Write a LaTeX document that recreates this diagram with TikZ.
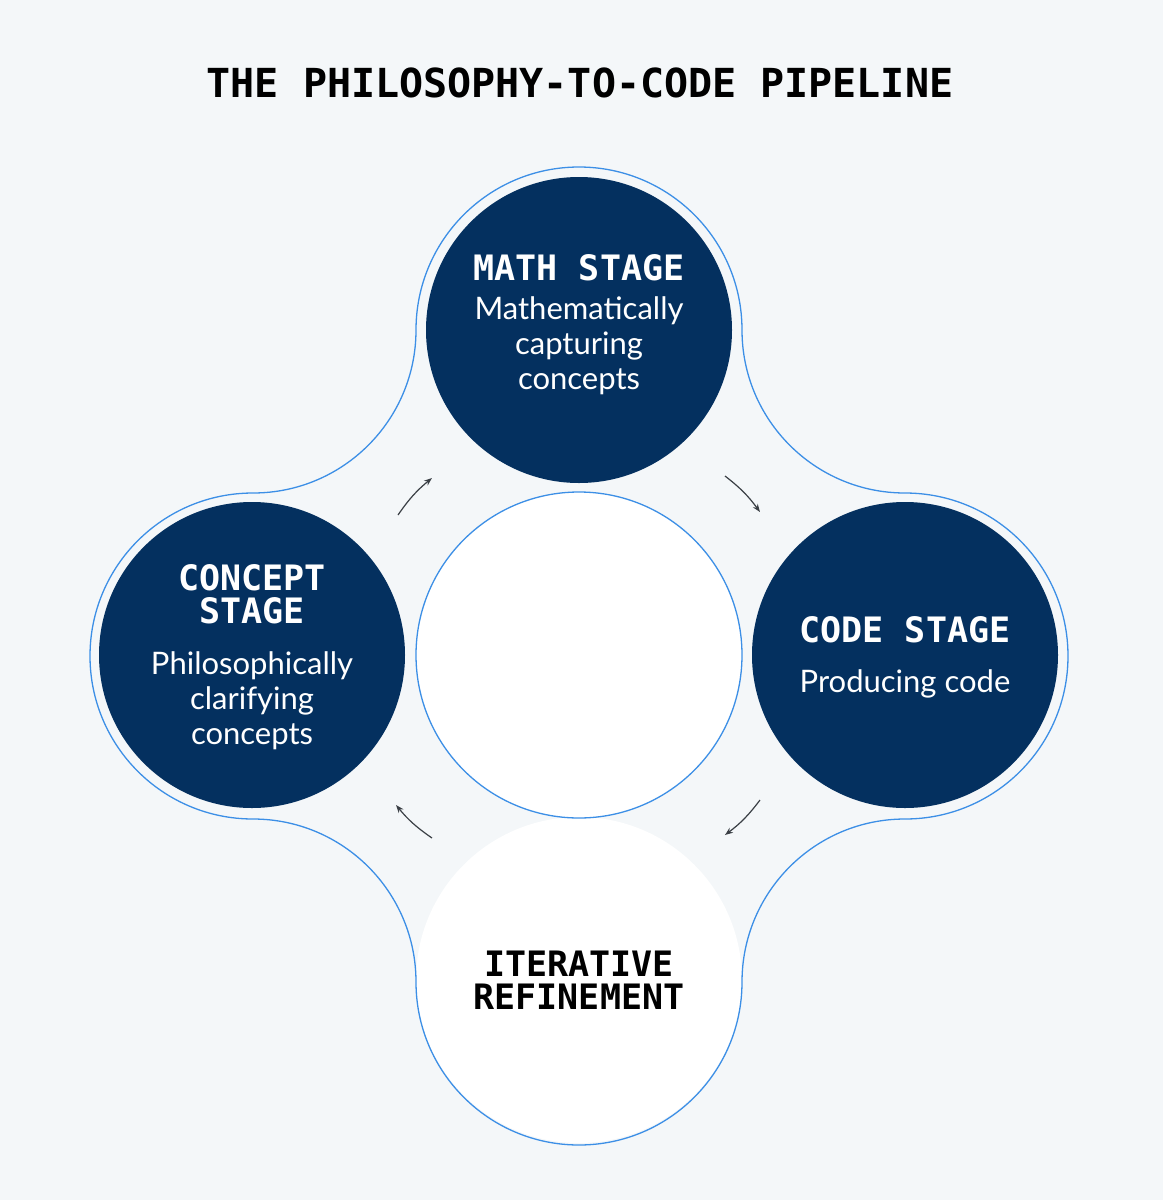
\documentclass[tikz,border=0pt]{standalone}
\usepackage{fontspec}
\setmainfont{Lato}
\newfontfamily\headfont{DejaVu Sans Mono}
\usetikzlibrary{arrows.meta, positioning}
\definecolor{bgcol}{HTML}{F4F7F9}
\definecolor{navy}{HTML}{04305F}
\definecolor{ringblue}{HTML}{3C8FE6}
\definecolor{arrowgray}{HTML}{3A3F45}

\begin{document}
\begin{tikzpicture}[x=1pt, y=-1pt,
    stage/.style={circle, fill=navy, minimum size=306pt, inner sep=0pt},
    ring/.style={draw=ringblue, line width=1.3pt},
    head/.style={font=\headfont\bfseries\fontsize{35}{35}\selectfont, text=white, align=center},
    body/.style={font=\fontsize{31}{35}\selectfont, text=white, align=center},
    flow/.style={draw=arrowgray, line width=1.2pt, -{Stealth[length=8pt, width=6pt]}}]
        \useasboundingbox[fill=bgcol] (0,0) rectangle (1163,1200);
        \node[font=\headfont\bfseries\fontsize{40}{40}\selectfont] (title) at (580,83) {THE PHILOSOPHY-TO-CODE PIPELINE};
        
        % white lobes
        \fill[white] (579,655) circle (163);
        \fill[white] (579,980) circle (163);
        \draw[ring] (579,655) circle (163);
        
        % outer outline
        \draw[ring] (742,330) arc[start angle=0, end angle=-180, radius=163]
            arc[start angle=0, end angle=90, radius=163]
            arc[start angle=-90, end angle=-270, radius=163]
            arc[start angle=-90, end angle=0, radius=163]
            arc[start angle=180, end angle=0, radius=163]
            arc[start angle=180, end angle=270, radius=163]
            arc[start angle=90, end angle=-90, radius=163]
            arc[start angle=90, end angle=180, radius=163] -- cycle;
        
        % stages
        \node[stage] (math) at (579,330) {};
        \node[stage] (concept) at (252,655) {};
        \node[stage] (code) at (905,655) {};
        
        \node[head] (mathhead) at (579,268) {MATH STAGE};
        \node[body] (mathbody) [below=8pt of mathhead] {Mathematically\\capturing\\concepts};
        \node[head, text depth=0pt] (concepthead) at (252,594) {CONCEPT\\[-2pt]STAGE};
        \node[body] (conceptbody) at (252,701) {Philosophically\\clarifying\\concepts};
        \node[head] (codehead) at (905,630) {CODE STAGE};
        \node[body] (codebody) at (905,684) {Producing code};
        \node[head, text=black] (iterhead) at (579,980) {ITERATIVE\\[-2pt]REFINEMENT};
        
        % cycle arrows
        \coordinate (a1s) at (398,515); \coordinate (a1e) at (432,478);
        \coordinate (a2s) at (725,476); \coordinate (a2e) at (760,512);
        \coordinate (a3s) at (760,800); \coordinate (a3e) at (725,835);
        \coordinate (a4s) at (432,838); \coordinate (a4e) at (396,805);
        \draw[flow] (a1s) to[bend left=8] (a1e);
        \draw[flow] (a2s) to[bend left=8] (a2e);
        \draw[flow] (a3s) to[bend left=8] (a3e);
        \draw[flow] (a4s) to[bend left=8] (a4e);
    \end{tikzpicture}
\end{document}
